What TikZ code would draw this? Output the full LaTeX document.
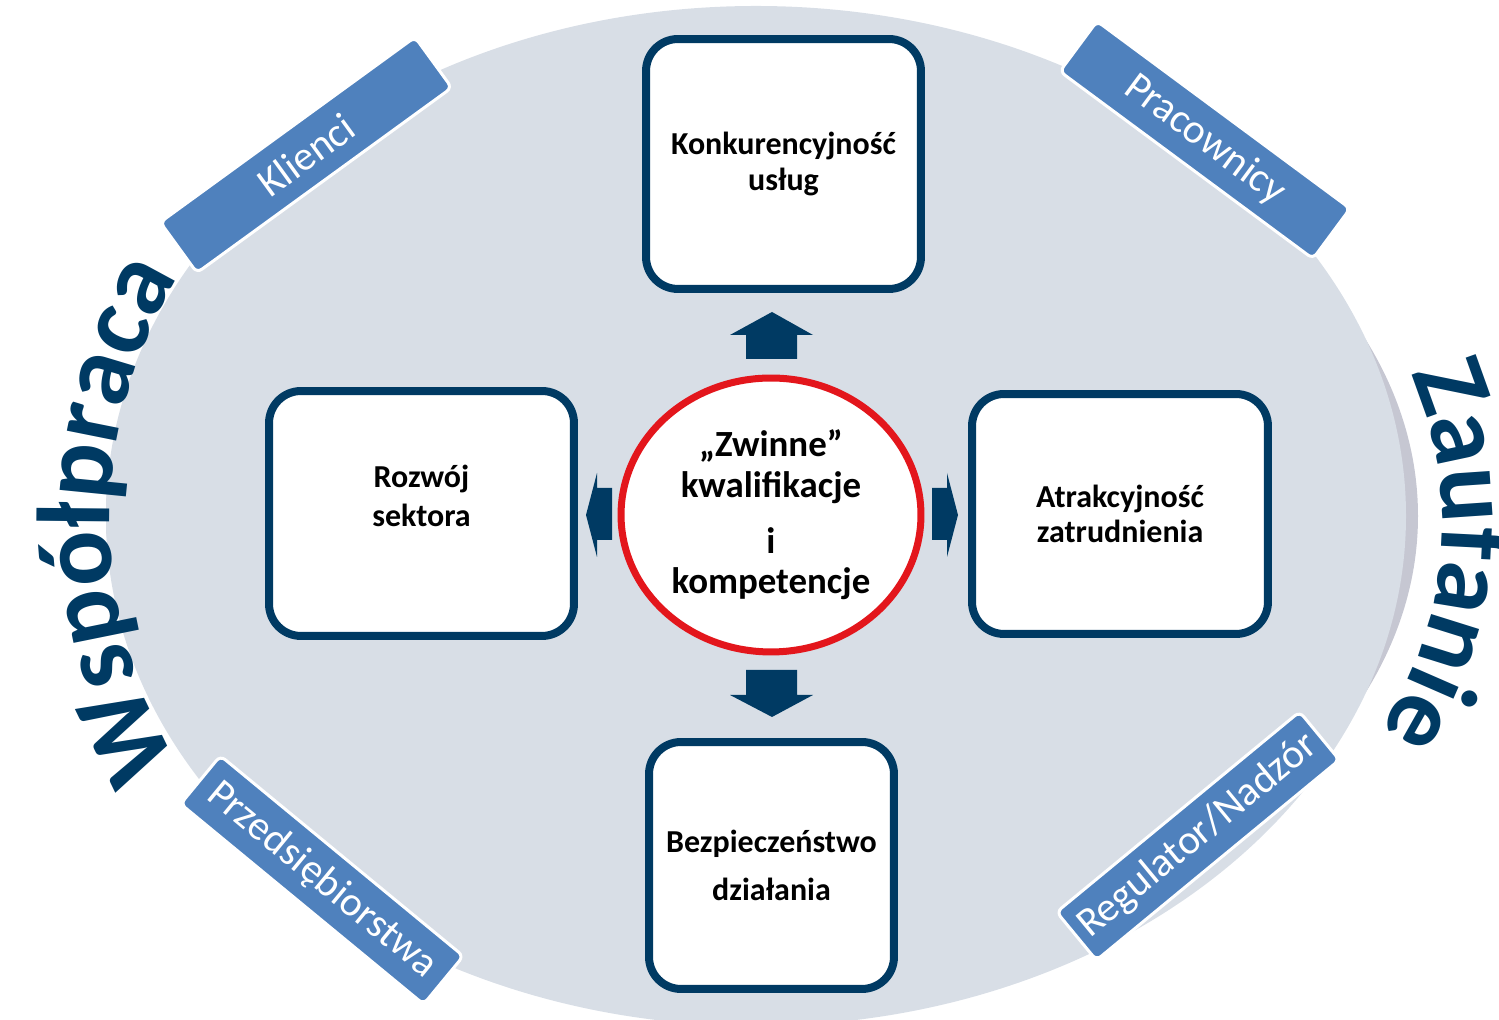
\documentclass[tikz,border=0pt]{standalone}
\usepackage{fontspec}
\setmainfont{Carlito}
\usetikzlibrary{shapes.geometric,decorations.text}
\definecolor{granat}{RGB}{0,58,99}
\definecolor{tlo}{RGB}{216,222,230}
\definecolor{cien}{RGB}{198,199,210}
\definecolor{niebieski}{RGB}{79,129,189}
\definecolor{czerwony}{RGB}{227,22,28}
\tikzset{
	pole/.style={draw=granat, line width=0.16cm, fill=white, rounded corners=0.64cm, align=center, font=\bfseries\fontsize{18.2}{20}\selectfont},
	etykieta/.style={draw=white, line width=0.06cm, fill=niebieski, rounded corners=0.12cm, minimum width=6.3cm, minimum height=1.25cm, inner sep=0pt, text=white, font=\fontsize{23.5}{25}\selectfont},
	strzalka/.style={fill=granat}
}
\begin{document}
\begin{tikzpicture}[x=0.02cm,y=0.02cm]
	\useasboundingbox (0,0) rectangle (1499,1020);
	\fill[cien] (762,504) ellipse [x radius=656, y radius=450];
	\fill[tlo] (756,504) ellipse [x radius=650, y radius=510];
	
	\node[etykieta, rotate=36] (klienci) at (306,865) {Klienci};
	\node[etykieta, rotate=-36.5] (pracownicy) at (1205,880) {Pracownicy};
	\node[etykieta, rotate=-39.5] (przedsiebiorstwa) at (322,140) {Przedsiębiorstwa};
	\node[etykieta, rotate=39.5] (regulator) at (1198,184) {Regulator/Nadzór};
	
	\node[pole, minimum width=5.5cm, minimum height=5cm] (konkurencyjnosc) at (783.5,856) {Konkurencyjność\\usług};
	\node[pole, minimum width=6.1cm, minimum height=4.9cm] (rozwoj) at (421.5,506.5) {Rozwój\\[0.08cm]sektora\\\mbox{}};
	\node[pole, minimum width=5.92cm, minimum height=4.8cm] (atrakcyjnosc) at (1120,506) {Atrakcyjność\\zatrudnienia};
	\node[pole, minimum width=4.9cm, minimum height=4.94cm] (bezpieczenstwo) at (771.5,154.5) {Bezpieczeństwo\\[0.27cm]działania};
	
	\node[ellipse, draw=czerwony, line width=0.14cm, fill=white, inner sep=0pt, minimum width=6cm, minimum height=5.48cm, align=center, font=\bfseries\fontsize{21}{23}\selectfont] (zwinne) at (771,505) {„Zwinne”\\kwalifikacje\\[0.32cm]i\\kompetencje};
	
	\fill[strzalka] (746,661) -- (746,685) -- (730,685) -- (772,708) -- (813,685) -- (797,685) -- (797,661) -- cycle;
	\fill[strzalka] (746,350) -- (746,325) -- (730,325) -- (772,303) -- (813,325) -- (797,325) -- (797,350) -- cycle;
	\fill[strzalka] (612,532) -- (597,532) -- (597,547) -- (586,505) -- (597,463) -- (597,480) -- (612,480) -- cycle;
	\fill[strzalka] (932,532) -- (947,532) -- (947,547) -- (958,505) -- (947,463) -- (947,480) -- (932,480) -- cycle;
	
	\path[decorate, decoration={text along path, text align=center, text color=granat, text={|\bfseries\fontsize{59}{60}\selectfont|Współpraca}}] (276.1,143.8) arc [start angle=230, end angle=130, radius=465];
	\path[decorate, decoration={text along path, text align=center, text color=granat, text={|\bfseries\fontsize{59}{60}\selectfont|Zaufanie}}] (1307.7,785.0) arc [start angle=50, end angle=-60, radius=376];
\end{tikzpicture}
\end{document}
